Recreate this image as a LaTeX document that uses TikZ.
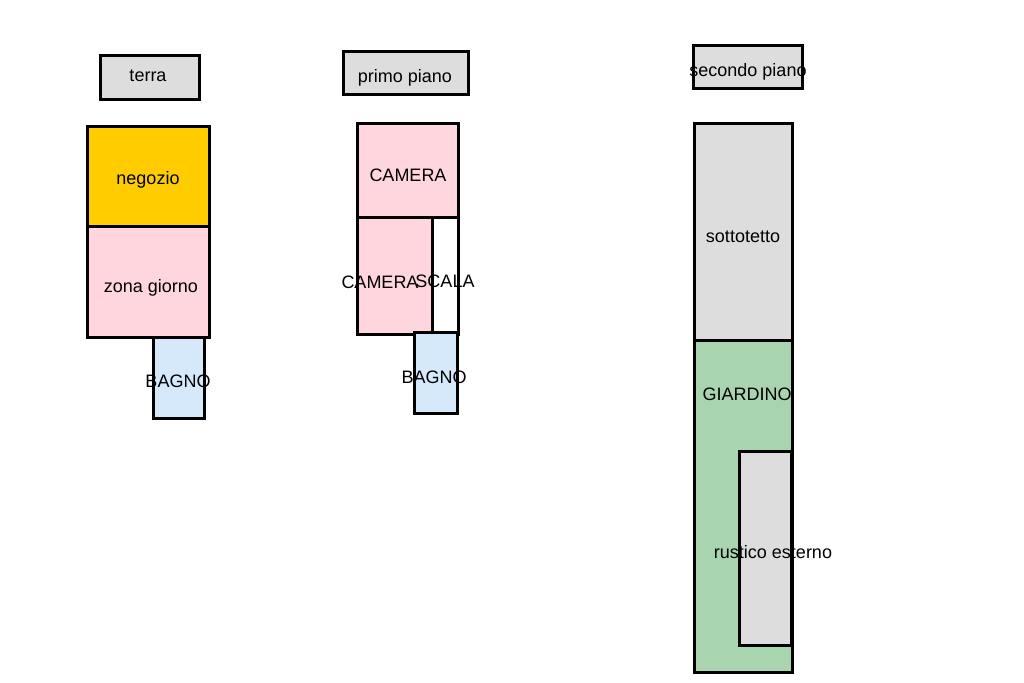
\documentclass[tikz,border=0pt]{standalone}
\usepackage{fontspec}
\setmainfont{Liberation Sans}
\definecolor{roomgray}{HTML}{DDDDDD}
\definecolor{shopgold}{HTML}{FFCC00}
\definecolor{roompink}{HTML}{FFD5DE}
\definecolor{bathblue}{HTML}{D5E9FB}
\definecolor{gardengreen}{HTML}{A8D5B0}
\tikzset{room/.style={draw=black,line width=3pt},
  lbl/.style={font=\fontsize{18}{21}\selectfont,inner sep=0pt}}
\begin{document}
\begin{tikzpicture}[line cap=rect,line join=miter,x=1pt,y=-1pt]
    \useasboundingbox[fill=white] (0,0) rectangle (1024,682);
    % piano terra
    \draw[room,fill=roomgray] (100,56) rectangle (199,100);
    \node[lbl] (terra) at (148,76) {terra};
    \draw[room,fill=shopgold] (87,126) rectangle (209,226);
    \node[lbl] (negozio) at (148,180) {negozio};
    \draw[room,fill=roompink] (87,226) rectangle (209,337);
    \node[lbl] (giorno) at (151,288) {zona giorno};
    \draw[room,fill=bathblue] (153,337) rectangle (204,418);
    \node[lbl] (bagnoT) at (178,381) {BAGNO};
    % primo piano
    \draw[room,fill=roomgray] (343,52) rectangle (468,95);
    \node[lbl] (primo) at (405,78) {primo piano};
    \draw[room,fill=roompink] (357,123) rectangle (458,217);
    \node[lbl] (cameraA) at (408,175) {CAMERA};
    \draw[room,fill=roompink] (357,217) rectangle (432,334);
    \draw[room,fill=white] (432,217) rectangle (458,334);
    \node[lbl] (cameraB) at (380,282) {CAMERA};
    \node[lbl] (scala) at (445,281) {SCALA};
    \draw[room,fill=bathblue] (414,332) rectangle (457,413);
    \node[lbl] (bagnoP) at (434,377) {BAGNO};
    % secondo piano
    \draw[room,fill=roomgray] (693,46) rectangle (802,89);
    \node[lbl] (secondo) at (748,72) {secondo piano};
    \draw[room,fill=roomgray] (694,123) rectangle (792,340);
    \node[lbl] (sottotetto) at (743,237) {sottotetto};
    \draw[room,fill=gardengreen] (694,340) rectangle (792,672);
    \node[lbl] (giardino) at (747,394) {GIARDINO};
    \draw[room,fill=roomgray] (739,451) rectangle (791,645);
    \node[lbl] (rustico) at (773,552) {rustico esterno};
\end{tikzpicture}
\end{document}
